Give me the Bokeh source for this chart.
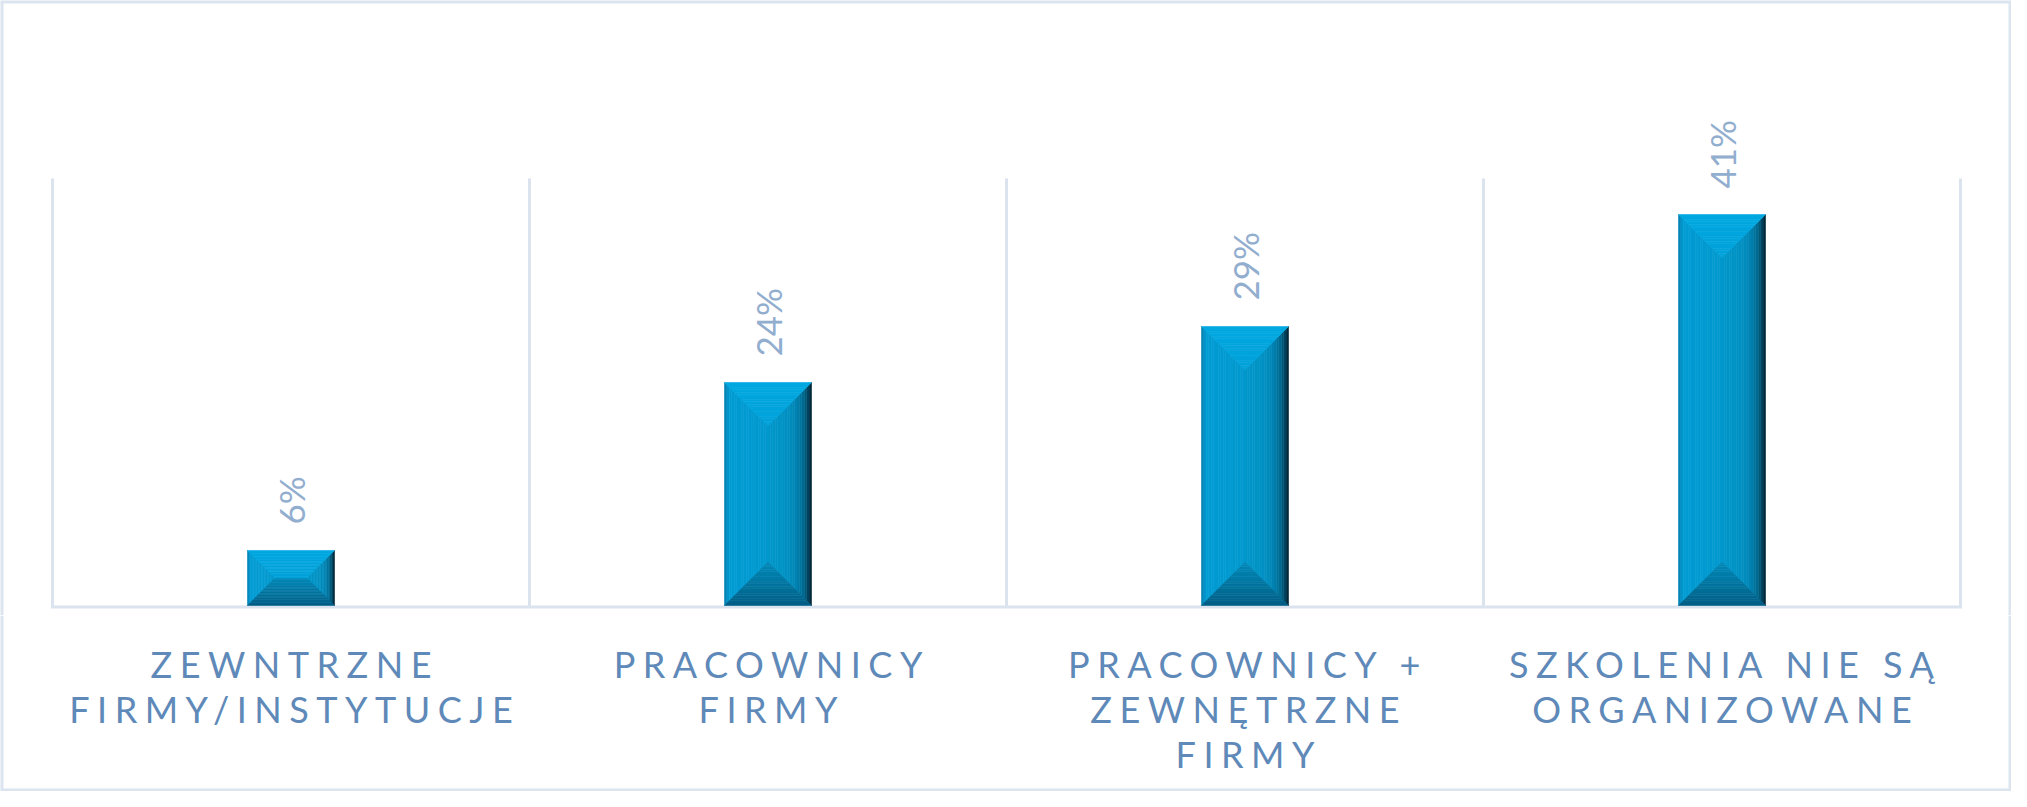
import numpy as np
from bokeh.plotting import figure
from bokeh.models import Range1d, ColumnDataSource
from bokeh.layouts import column
from bokeh.embed import file_html
from bokeh.resources import INLINE
from bokeh.core.properties import value

# ---------------- data ----------------
categories = [
    "ZEWNTRZNE\nFIRMY/INSTYTUCJE",
    "PRACOWNICY\nFIRMY",
    "PRACOWNICY +\nZEWNĘTRZNE\nFIRMY",
    "SZKOLENIA NIE SĄ\nORGANIZOWANE",
]
values = [5.8, 23.5, 29.4, 41.2]
value_labels = ["6%", "24%", "29%", "41%"]
y_max = 45

# ---------------- style / layout ----------------
W, H1, H2 = 2011, 615, 176
PL, PR = 52, 1960          # plot left / right (px)
BASE, TOP = 605, 178       # baseline / top of grid (px from top)
GRID = "#dbe4ee"
BORDER = "#dce5ef"
CAT_COLOR = "#5e89b8"
VAL_COLOR = "#92aecf"
CAT_FONT = "Lato"
VAL_FONT = "Lato"
LS = 7.5                   # letter spacing for category labels (px)

n = len(categories)
pitch = (PR - PL) / n
x0 = -PL / pitch
x1 = n + (W - PR) / pitch
ppy = (BASE - TOP) / y_max
y0 = -(H1 - BASE) / ppy
y1 = BASE / ppy

p = figure(width=W, height=H1, x_range=Range1d(x0, x1), y_range=Range1d(y0, y1),
           output_backend="svg", toolbar_location=None,
           x_axis_location=None, y_axis_location=None, min_border=0)
p.min_border_left = p.min_border_right = p.min_border_top = p.min_border_bottom = 0
p.outline_line_color = None
p.grid.grid_line_color = None
p.background_fill_color = "white"
p.border_fill_color = "white"

centers = np.arange(n) + 0.5
bounds = np.arange(n + 1)

# vertical gridlines at category boundaries and baseline
p.segment(x0=bounds, y0=-1.5 / ppy, x1=bounds, y1=y_max, line_color=GRID, line_width=3)
p.segment(x0=[-1.5 / pitch], y0=[-1.5 / ppy], x1=[n + 1.5 / pitch], y1=[-1.5 / ppy],
          line_color=GRID, line_width=3)


# ---------------- bevelled bars ----------------
def hex2rgb(h):
    h = h.lstrip("#")
    return np.array([int(h[i:i + 2], 16) for i in (0, 2, 4)], float)


def grad(stops, t):
    pos = [s[0] for s in stops]
    rgb = [hex2rgb(s[1]) for s in stops]
    c = [np.interp(t, pos, [r[k] for r in rgb]) for k in range(3)]
    return "#%02x%02x%02x" % tuple(int(round(v)) for v in c)


LEFT = [(0, "#0b73a0"), (0.05, "#0392c8"), (0.14, "#009cd4"), (1.0, "#0099ce")]
RIGHT = [(0, "#001a26"), (0.06, "#003a52"), (0.18, "#00688e"), (0.35, "#0083b3"),
         (0.55, "#0091c3"), (1.0, "#0097ca")]
BOTTOM = [(0, "#005d85"), (0.4, "#00719b"), (1.0, "#0088b8")]
TOPF = [(0, "#00a8e1"), (1.0, "#00a1d9")]
NS = 18

half = 43.5
xs, ys, cols = [], [], []


def add(poly, c, col):
    xs.append([c + px / pitch for px, py in poly])
    ys.append([py / ppy for px, py in poly])
    cols.append(col)


fr = np.linspace(0, 1, NS + 1)
for c, v in zip(centers, values):
    h = v * ppy
    b = min(half, h / 2)
    L, R, T = -half, half, h
    add([(L + b, b), (R - b, b), (R - b, T - b), (L + b, T - b)], c, "#0099cc")
    for k in range(NS):
        d0, d1 = fr[k] * b, fr[k + 1] * b
        tm = (fr[k] + fr[k + 1]) / 2
        add([(L + d0, d0), (L + d0, T - d0), (L + d1, T - d1), (L + d1, d1)], c, grad(LEFT, tm))
        add([(R - d0, d0), (R - d0, T - d0), (R - d1, T - d1), (R - d1, d1)], c, grad(RIGHT, tm))
        add([(L + d0, d0), (R - d0, d0), (R - d1, d1), (L + d1, d1)], c, grad(BOTTOM, tm))
        add([(L + d0, T - d0), (R - d0, T - d0), (R - d1, T - d1), (L + d1, T - d1)], c, grad(TOPF, tm))

p.patches(xs=xs, ys=ys, fill_color=cols, line_color=cols, line_width=0.6)

# value labels (rotated)
p.text(x=centers, y=[v + 26 / ppy for v in values], text=value_labels, angle=np.pi / 2,
       text_align="left", text_baseline="middle", text_font=value(VAL_FONT),
       text_font_size="35px", text_color=VAL_COLOR)

# outer border (top part)
p.segment(x0=[x0, x1, x0], y0=[y0, y0, y1], x1=[x0, x1, x1], y1=[y1, y1, y1],
          line_color=BORDER, line_width=6)

# ---------------- category label strip ----------------
q = figure(width=W, height=H2, x_range=p.x_range, y_range=Range1d(H2, 0),
           output_backend="svg", toolbar_location=None,
           x_axis_location=None, y_axis_location=None, min_border=0)
q.min_border_left = q.min_border_right = q.min_border_top = q.min_border_bottom = 0
q.outline_line_color = None
q.grid.grid_line_color = None
q.styles = {"letter-spacing": f"{LS}px"}

LINE0, LPITCH = 48, 45
lx, ly, lt, lo = [], [], [], []
for i, cat in enumerate(categories):
    for k, line in enumerate(cat.split("\n")):
        lx.append(centers[i])
        ly.append(LINE0 + k * LPITCH)
        lt.append(line)
        lo.append(-LS * (len(line) - 1) / 2)
src = ColumnDataSource(dict(x=lx, y=ly, t=lt, xo=lo))
q.text(x="x", y="y", text="t", x_offset="xo", source=src, text_align="center",
       text_baseline="alphabetic", text_font=value(CAT_FONT), text_font_size="36px",
       text_color=CAT_COLOR)

q.segment(x0=[x0, x1, x0], y0=[0, 0, H2], x1=[x0, x1, x1], y1=[H2, H2, H2],
          line_color=BORDER, line_width=6)

layout = column(p, q, spacing=0)
open("out.html", "w").write(file_html(layout, INLINE))
